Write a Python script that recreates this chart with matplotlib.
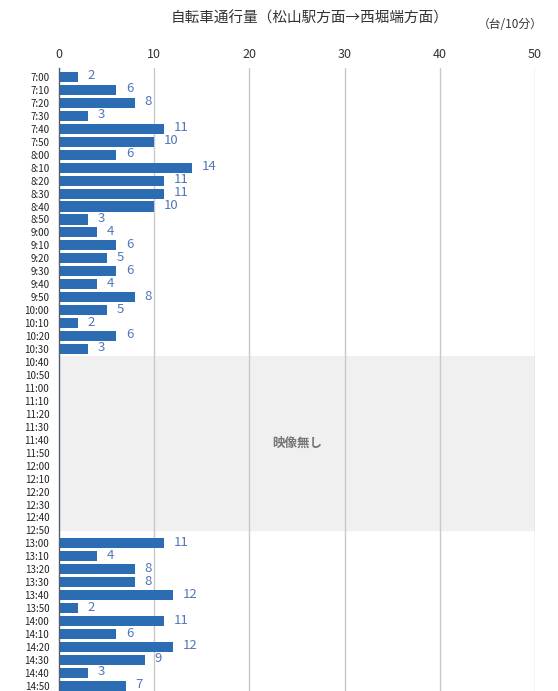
import matplotlib
matplotlib.use('Agg')
import matplotlib.pyplot as plt

plt.rcParams['font.family'] = ['Noto Sans CJK JP', 'DejaVu Sans']

# time slots 7:00 - 14:50, every 10 minutes
times = [f'{h}:{m:02d}' for h in range(7, 15) for m in range(0, 60, 10)]
morning = [2, 6, 8, 3, 11, 10, 6, 14, 11, 11, 10, 3, 4, 6, 5, 6, 4, 8, 5, 2, 6, 3]
no_video = [None] * 14   # 10:40 - 12:50
afternoon = [11, 4, 8, 8, 12, 2, 11, 6, 12, 9, 3, 7]
counts = morning + no_video + afternoon
xticks = [0, 10, 20, 30, 40, 50]

title = '自転車通行量（松山駅方面→西堀端方面）'
unit = '（台/10分）'
gap_label = '映像無し'

bar_color = '#2b6cb3'
label_color = '#5276b9'

fig = plt.figure(figsize=(5.58, 6.91), dpi=100)
ax = fig.add_axes([0.1057, 0.0, 0.8531, 0.9016])

ypos = list(range(len(times)))
gap_start = len(morning) - 0.5
gap_end = len(morning) + len(no_video) - 1

ax.axhspan(gap_start, gap_end, xmin=0, xmax=1, color='#f0f0f0', zorder=0)
for t in xticks[1:]:
    ax.axvline(t, color='#c8c8c8', lw=1, zorder=1)

for y, v in zip(ypos, counts):
    if v is None:
        continue
    ax.barh(y, v, height=0.78, color=bar_color, zorder=2)
    ax.annotate(str(v), (v, y), xytext=(7, 0.8), textcoords='offset points',
                ha='left', va='center', fontsize=9.5, color=label_color)

ax.text(25, (gap_start + gap_end) / 2, gap_label, ha='center', va='center',
        fontsize=9, fontweight='bold', color='#777777')

ax.set_xlim(0, 50)
ax.set_ylim(47.39, -0.69)
ax.set_xticks(xticks)
ax.xaxis.tick_top()
ax.tick_params(axis='x', length=0, pad=5, labelsize=9, labelcolor='#333333')
ax.set_yticks(ypos)
ax.set_yticklabels(times)
ax.tick_params(axis='y', length=0, pad=7, labelsize=7, labelcolor='#222222')
for s in ['top', 'right', 'bottom']:
    ax.spines[s].set_visible(False)
ax.spines['left'].set_color('#506070')
ax.spines['left'].set_linewidth(1)

fig.text(310 / 558, 1 - 18 / 691, title, ha='center', va='center', fontsize=10.5, color='#333333')
fig.text(510 / 558, 1 - 25 / 691, unit, ha='center', va='center', fontsize=8.5, color='#333333')

fig.savefig('out.png', dpi=100)
